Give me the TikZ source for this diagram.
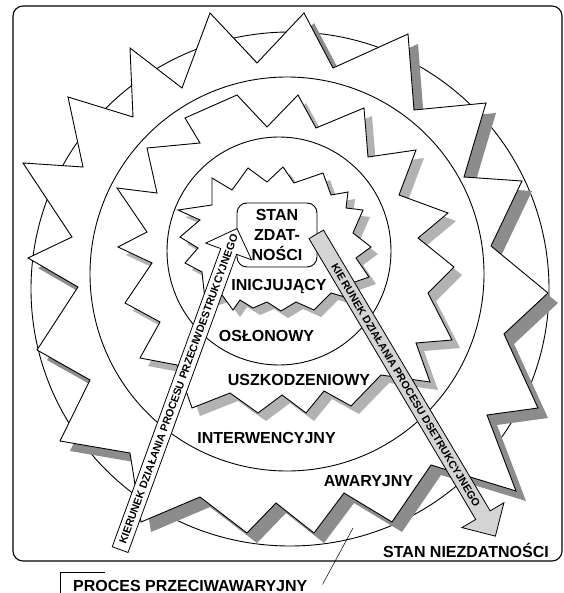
\documentclass[tikz,border=0pt]{standalone}
\usepackage{fontspec}
\setmainfont{Liberation Sans}
\usetikzlibrary{shapes.arrows}
\definecolor{ciemny}{gray}{0.55}
\definecolor{jasny}{gray}{0.70}
\definecolor{strzal}{gray}{0.83}
\begin{document}
\begin{tikzpicture}[x=1pt,y=-1pt,line join=miter]
    \def\gwA{257/63,304/13,333/68,408/34,414/110,486/103,464/177,522/181,491/246,548/293,504/334,538/408,487/415,516/491,431/465,392/522,344/493,314/533,276/503,247/533,200/497,141/522,130/453,60/441,90/380,37/350,78/287,28/258,72/237,23/163,83/167,68/97,133/117,130/48,182/88}
    \def\gwB{267/127,298/95,316/128,364/108,368/157,416/150,399/195,448/213,418/238,454/267,428/293,452/340,416/343,430/382,381/375,351/406,324/391,306/413,282/395,258/413,230/393,192/408,177/365,140/358,160/322,125/303,152/263,118/247,147/232,117/188,157/193,147/148,200/143,185/118}
    \def\gwC{267/182,283/167,294/183,323/173,331/195,348/192,346/208,363/210,353/233,371/247,356/258,369/277,352/283,345/297,331/293,314/310,296/302,281/311,267/302,253/308,240/300,233/310,222/295,205/300,202/272,185/263,198/248,180/237,200/220,178/210,212/205,212/178,232/190}
    \tikzset{gw/.style={draw,fill=white,line width=0.9pt},
             kolo/.style={draw,line width=0.9pt},
             cienka/.style={draw,line width=0.5pt},
             napis/.style={font=\fontsize{16}{20}\selectfont\bfseries,inner sep=0pt,anchor=base},
             zdatbox/.style={draw,fill=white,line width=0.9pt,rounded corners=10pt,minimum width=80pt,minimum height=64pt,inner sep=0pt,align=center,font=\fontsize{16}{20}\selectfont\bfseries},
             kier/.style={single arrow,draw,line width=0.8pt,single arrow head extend=16pt,text height=8pt,text depth=0pt,inner ysep=4pt,inner xsep=0pt,anchor=tail},
             kiertxt/.style={font=\fontsize{10.7}{12}\selectfont\bfseries,inner sep=0pt,sloped}}
    \useasboundingbox (0,0) rectangle (563,593);
    % kolo zewnetrzne i gwiazda awaryjna
    \draw[kolo] (290,289) ellipse [x radius=259pt,y radius=257pt];
    \fill[ciemny,shift={(10,10)}] (210,13) \foreach \x/\y in \gwA {--(\x,\y)} --cycle;
    \draw[gw] (210,13) \foreach \x/\y in \gwA {--(\x,\y)} --cycle;
    % interwencyjny / uszkodzeniowy
    \draw[kolo] (287,274) circle [radius=197pt];
    \fill[jasny,shift={(8,8)}] (237,95) \foreach \x/\y in \gwB {--(\x,\y)} --cycle;
    \draw[gw] (237,95) \foreach \x/\y in \gwB {--(\x,\y)} --cycle;
    % oslonowy / inicjujacy
    \draw[kolo] (279,251) ellipse [x radius=112pt,y radius=114pt];
    \fill[jasny,shift={(7,7)}] (248,168) \foreach \x/\y in \gwC {--(\x,\y)} --cycle;
    \draw[gw] (248,168) \foreach \x/\y in \gwC {--(\x,\y)} --cycle;
    \node[zdatbox] (zdat) at (277,235) {STAN\\ZDAT-\\NOŚCI};
    \node[napis] (inic) at (279,290.5) {INICJUJĄCY};
    \node[napis] (oslon) at (266.5,341.5) {OSŁONOWY};
    \node[napis] (uszk) at (299,385.5) {USZKODZENIOWY};
    \node[napis] (interw) at (266.5,443.5) {INTERWENCYJNY};
    \node[napis] (awar) at (368.5,486.5) {AWARYJNY};
    % strzalki kierunku
    \node[kier,fill=white,rotate=70,minimum height=341.7pt] (przeciw) at (120,550) {};
    \path (przeciw.tail)--(przeciw.tip)node[kiertxt,pos=0.5]{KIERUNEK DZIAŁANIA PROCESU PRZECIWDESTRUKCYJNEGO};
    \node[kier,fill=strzal,rotate=-59.3,minimum height=351pt] (destr) at (316,234) {};
    \path (destr.tail)--(destr.tip)node[kiertxt,pos=0.5]{KIE\,RUNEK DZIAŁANIA PROCESU DSETRUKCYJNEGO};
    % ramka
    \draw[line width=1.1pt,rounded corners=10pt] (13,6) rectangle (562,561);
    \node[napis] (niezd) at (466,557.5) {STAN NIEZDATNOŚCI};
    \node[napis,anchor=base west] (proces) at (73,591) {PROCES PRZECIWAWARYJNY};
    \coordinate (awaria) at (353,528);
    \draw[cienka] (proces.east)++(15,-1)--(awaria);
    \draw[cienka] (proces.north west)++(32,-7)-|++(-45,20);
\end{tikzpicture}
\end{document}
